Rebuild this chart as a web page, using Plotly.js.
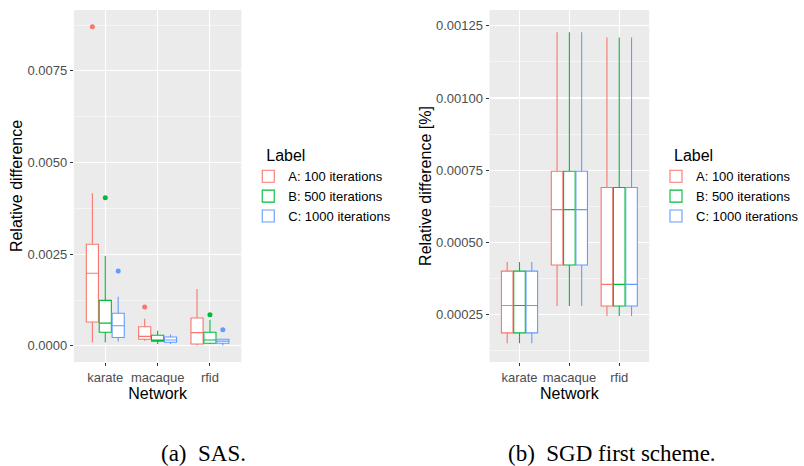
<!DOCTYPE html>
<html>
<head>
<meta charset="utf-8">
<script src="https://cdn.plot.ly/plotly-3.0.1.min.js"></script>
<style>html,body{margin:0;padding:0;background:#fff;}#plot{width:804px;height:466px;}</style>
</head>
<body>
<div id="plot"></div>
<script>
// ---------- data ----------
var networks = ['karate', 'macaque', 'rfid'];
var labels = ['A: 100 iterations', 'B: 500 iterations', 'C: 1000 iterations'];
var groups = ['A', 'B', 'C'];
var colors = ['#F8766D', '#00BA38', '#619CFF'];

// (a) SAS – box statistics per label, per network
var sasLower  = [[0.00009, 0.00014, 0.00001], [0.00009, 0.00005, 0.00005], [0.00012, 0.00005, 0.00001]];
var sasQ1     = [[0.00065, 0.00018, 0.00005], [0.00037, 0.00013, 0.00007], [0.00023, 0.00010, 0.00007]];
var sasMedian = [[0.00198, 0.00026, 0.00036], [0.00062, 0.00016, 0.00016], [0.00055, 0.00016, 0.00013]];
var sasQ3     = [[0.00277, 0.00052, 0.00076], [0.00124, 0.00029, 0.00037], [0.00089, 0.00024, 0.00018]];
var sasUpper  = [[0.00416, 0.00074, 0.00155], [0.00245, 0.00041, 0.00071], [0.00134, 0.00031, 0.00018]];
// (a) SAS – outliers
var sasOutX = [['karate', 'macaque'], ['karate', 'rfid'], ['karate', 'rfid']];
var sasOutY = [[0.00870, 0.00106], [0.00404, 0.00085], [0.00204, 0.00044]];

// (b) SGD first scheme – identical for all labels
var sgdLower  = [0.000150, 0.000279, 0.000244];
var sgdQ1     = [0.000186, 0.000421, 0.000279];
var sgdMedian = [0.000281, 0.000613, 0.000354];
var sgdQ3     = [0.000400, 0.000746, 0.000690];
var sgdUpper  = [0.000432, 0.001228, 0.001210];

// tick labels
var sasTicks = [0, 0.0025, 0.005, 0.0075];
var sasTickText = ['0.0000', '0.0025', '0.0050', '0.0075'];
var sgdTicks = [0.00025, 0.0005, 0.00075, 0.001, 0.00125];
var sgdTickText = ['0.00025', '0.00050', '0.00075', '0.00100', '0.00125'];

// ---------- traces ----------
var traces = [];
for (var i = 0; i < 3; i++) {
  traces.push({
    type: 'box', name: labels[i], x: networks,
    lowerfence: sasLower[i], q1: sasQ1[i], median: sasMedian[i], q3: sasQ3[i], upperfence: sasUpper[i],
    xaxis: 'x', yaxis: 'y', legend: 'legend', offsetgroup: groups[i], alignmentgroup: 'sas',
    line: {color: colors[i], width: 1.1}, fillcolor: '#FFFFFF',
    boxpoints: false, whiskerwidth: 0, hoverinfo: 'skip'
  });
}
for (var i = 0; i < 3; i++) {
  traces.push({
    type: 'scatter', mode: 'markers', name: labels[i], x: sasOutX[i], y: sasOutY[i],
    xaxis: 'x', yaxis: 'y', showlegend: false, offsetgroup: groups[i], alignmentgroup: 'sasOut',
    marker: {color: colors[i], size: 5}, hoverinfo: 'skip'
  });
}
for (var i = 0; i < 3; i++) {
  traces.push({
    type: 'box', name: labels[i], x: networks,
    lowerfence: sgdLower, q1: sgdQ1, median: sgdMedian, q3: sgdQ3, upperfence: sgdUpper,
    xaxis: 'x2', yaxis: 'y2', legend: 'legend2', offsetgroup: groups[i], alignmentgroup: 'sgd',
    line: {color: colors[i], width: 1.1}, fillcolor: '#FFFFFF',
    boxpoints: false, whiskerwidth: 0, hoverinfo: 'skip'
  });
}

var FONT = 'Liberation Sans, Arial, sans-serif';
function xax(domain, anchor) {
  return {
    domain: domain, anchor: anchor, type: 'category', range: [-0.6, 2.6],
    showgrid: true, gridcolor: '#FFFFFF', gridwidth: 1.1,
    showline: false, zeroline: false,
    ticks: 'outside', ticklen: 3, tickcolor: '#333333', tickwidth: 1,
    tickfont: {family: FONT, size: 13, color: '#4D4D4D'},
    title: {text: 'Network', font: {family: FONT, size: 16, color: '#000'}, standoff: 0},
    fixedrange: true
  };
}
function yax(domain, anchor, range, tv, tt, minorDtick, title) {
  return {
    domain: domain, anchor: anchor, range: range,
    tickmode: 'array', tickvals: tv, ticktext: tt,
    showgrid: true, gridcolor: '#FFFFFF', gridwidth: 1.1,
    minor: {dtick: minorDtick, tick0: 0, showgrid: true, gridcolor: '#FFFFFF', gridwidth: 0.5, ticks: ''},
    showline: false, zeroline: false,
    ticks: 'outside', ticklen: 3, tickcolor: '#333333', tickwidth: 1,
    tickfont: {family: FONT, size: 13, color: '#4D4D4D'},
    title: {text: title, font: {family: FONT, size: 16, color: '#000'}, standoff: 0},
    fixedrange: true
  };
}

var yDom = [1 - 362 / 466, 1 - 10 / 466];
function legendCfg(xpx) {
  return {
    x: xpx / 804, xanchor: 'left', y: 1 - 186 / 466, yanchor: 'middle',
    bgcolor: 'rgba(0,0,0,0)', font: {family: FONT, size: 13, color: '#000'},
    title: {text: '\u2003Label', font: {family: FONT, size: 16, color: '#000'}},
    tracegroupgap: 0, itemclick: false
  };
}
var CAPFONT = {family: 'Liberation Serif, Times New Roman, serif', size: 23, color: '#000'};
var layout = {
  width: 804, height: 466,
  margin: {l: 0, r: 0, t: 0, b: 0},
  paper_bgcolor: '#FFFFFF',
  plot_bgcolor: '#EBEBEB',
  font: {family: FONT, size: 13, color: '#000'},
  boxmode: 'group', boxgap: 0.26, boxgroupgap: 0.06,
  scattermode: 'group', scattergap: 0.26,
  xaxis: xax([75 / 804, 245 / 804], 'y'),
  yaxis: yax(yDom, 'x', [-0.00044, 0.00916], sasTicks, sasTickText, 0.00125, 'Relative difference'),
  xaxis2: xax([497 / 804, 659 / 804], 'y2'),
  yaxis2: yax(yDom, 'x2', [0.000085, 0.001305], sgdTicks, sgdTickText, 0.000125, 'Relative difference [%]'),
  legend: legendCfg(252),
  legend2: legendCfg(666),
  annotations: [
    {xref: 'paper', yref: 'paper', x: 207 / 804, y: 1 - 453 / 466, xanchor: 'center', yanchor: 'middle',
     showarrow: false, text: '(a)\u2002SAS.', font: CAPFONT},
    {xref: 'paper', yref: 'paper', x: 621 / 804, y: 1 - 453 / 466, xanchor: 'center', yanchor: 'middle',
     showarrow: false, text: '(b)\u2002SGD first scheme.', font: CAPFONT}
  ]
};

Plotly.newPlot('plot', traces, layout, {staticPlot: true, displayModeBar: false});
</script>
</body>
</html>
